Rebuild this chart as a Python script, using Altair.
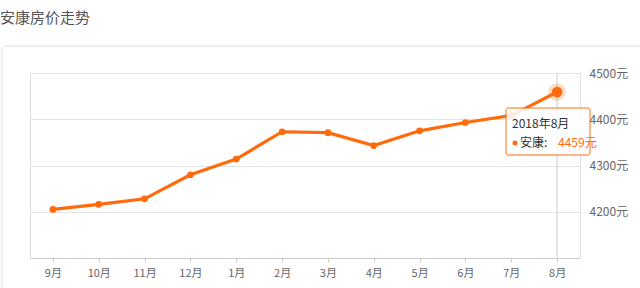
import altair as alt
import pandas as pd

months = ["9月", "10月", "11月", "12月", "1月", "2月", "3月", "4月", "5月", "6月", "7月", "8月"]
prices = [4205, 4216, 4228, 4280, 4314, 4373, 4371, 4343, 4375, 4393, 4408, 4459]
y_ticks = [4200, 4300, 4400, 4500]
title_text = "安康房价走势"
tip_date = "2018年8月"
tip_series = "安康:"

df = pd.DataFrame({"month": months, "price": prices})
last = pd.DataFrame({"month": [months[-1]], "price": [prices[-1]],
                     "date": [tip_date], "series": [tip_series], "title": [title_text]})

FONT = "Noto Sans CJK SC"
ORANGE = "#ff6a0a"

x = alt.X("month:N", sort=months,
          scale=alt.Scale(type="point", padding=0.5),
          axis=alt.Axis(title=None, labelAngle=0, labelColor="#666", labelFontSize=11,
                        labelFont=FONT, domainColor="#cccccc", tickColor="#cccccc",
                        tickSize=4, labelPadding=5, grid=False))
y = alt.Y("price:Q",
          scale=alt.Scale(domain=[4100, 4500], nice=False, zero=False),
          axis=alt.Axis(title=None, orient="right", values=y_ticks,
                        labelExpr="datum.value + '元'", labelColor="#666",
                        labelFontSize=12, labelFont=FONT, domainColor="#e0e0e0",
                        ticks=False, gridColor="#e3e3e3", labelPadding=9))

base = alt.Chart(df)
lastc = alt.Chart(last)

box = lastc.mark_rect(fillOpacity=0, stroke="#e2e2e2", strokeWidth=1, cornerRadius=4).encode(
    x=alt.value(-28), x2=alt.value(640), y=alt.value(-27), y2=alt.value(300))

rule = lastc.mark_rule(color="#cccccc", strokeWidth=1).encode(x=x)

line = base.mark_line(color=ORANGE, strokeWidth=3.2).encode(x=x, y=y)
pts = base.mark_circle(color=ORANGE, size=45, opacity=1).encode(x=x, y=y)

halo = lastc.mark_circle(color=ORANGE, size=300, opacity=0.25).encode(x=x, y=y)
big = lastc.mark_circle(color=ORANGE, size=110, opacity=1).encode(x=x, y=y)

tip_box = lastc.mark_rect(fill="white", fillOpacity=0.85, stroke=ORANGE, strokeWidth=1,
                          cornerRadius=2).encode(
    x=alt.value(476), x2=alt.value(560), y=alt.value(35), y2=alt.value(82))

tip_date_t = lastc.mark_text(align="left", baseline="middle", font=FONT, fontSize=12,
                             color="#333").encode(
    x=alt.value(482), y=alt.value(51), text="date:N")
tip_dot = lastc.mark_circle(color=ORANGE, size=25, opacity=1).encode(
    x=alt.value(485), y=alt.value(70))
tip_series_t = lastc.mark_text(align="left", baseline="middle", font=FONT, fontSize=12,
                               color="#333").encode(
    x=alt.value(490), y=alt.value(70), text="series:N")
tip_val = lastc.transform_calculate(lbl="datum.price + '元'").mark_text(
    align="left", baseline="middle", font=FONT, fontSize=12, color=ORANGE).encode(
    x=alt.value(528), y=alt.value(70), text="lbl:N")

title = lastc.mark_text(align="left", baseline="middle", font=FONT, fontSize=15,
                        color="#555").encode(
    x=alt.value(-30), y=alt.value(-55), text="title:N")

chart = alt.layer(box, rule, line, pts, halo, big, tip_box, tip_date_t, tip_dot,
                  tip_series_t, tip_val, title).properties(
    width=550, height=185, autosize="none",
    padding={"left": 30, "top": 73, "right": 60, "bottom": 30},
).configure_view(strokeWidth=0, stroke="transparent").configure(font=FONT, background="white")

chart.save("out.html", embed_options={"renderer": "svg", "actions": False})
